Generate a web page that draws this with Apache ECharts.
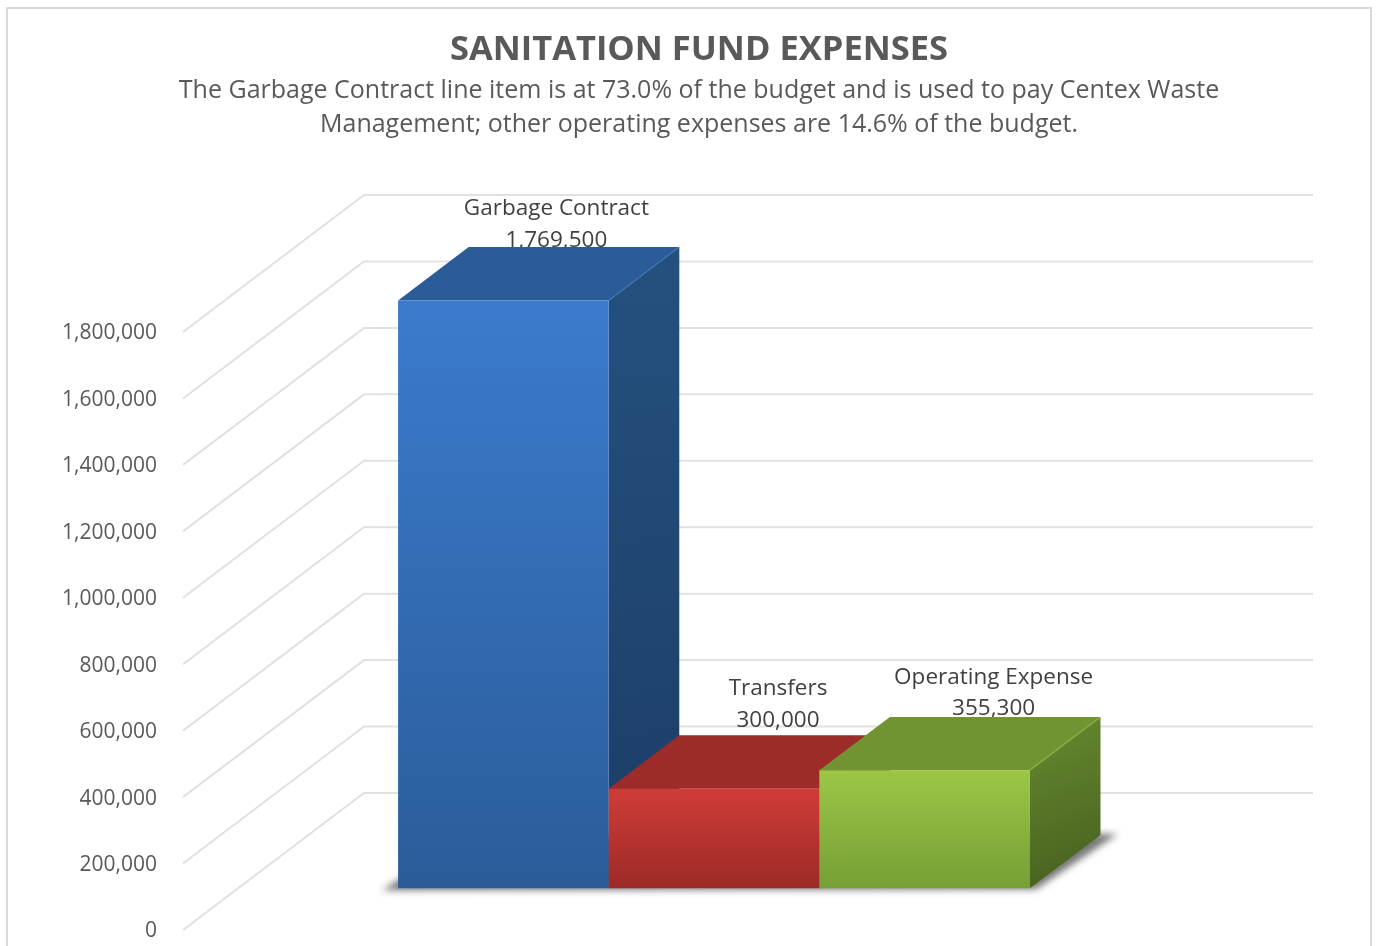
<!DOCTYPE html>
<html>
<head>
<meta charset="utf-8">
<title>Sanitation Fund Expenses</title>
<script src="https://cdn.jsdelivr.net/npm/echarts@6/dist/echarts.min.js"></script>
<style>
html, body { margin: 0; padding: 0; background: #fff; }
#chart { width: 1377px; height: 946px; }
</style>
</head>
<body>
<div id="chart"></div>
<script>
var categories = ['Garbage Contract', 'Transfers', 'Operating Expense'];
var expenses = [1769500, 300000, 355300];
var tickValues = [0, 200000, 400000, 600000, 800000, 1000000, 1200000, 1400000, 1600000, 1800000];

var titleText = 'SANITATION FUND EXPENSES';
var subtitleText = 'The Garbage Contract line item is at 73.0% of the budget and is used to pay Centex Waste\nManagement; other operating expenses are 14.6% of the budget.';

var fontName = '"Open Sans", "Noto Sans", sans-serif';
var textColor = '#595959';

// oblique projection: how far one full step of depth moves a point on screen
var depthX = 181;
var depthY = -137;
var barDepthFront = 0.304;
var barDepthBack = 0.694;

var faces = [
    { front: ['#3b7bcd', '#2b5c99'], top: '#2b5c98', side: ['#25517f', '#1c3d66'] },
    { front: ['#d03c38', '#9c2a27'], top: '#9c2b29', side: ['#7a2220', '#6a1d1b'] },
    { front: ['#9cc646', '#769f36'], top: '#719331', side: ['#678a30', '#465e1e'] }
];

// small hand nudges so the labels sit where the picture has them
var labelNudgeX = [53, 64, 69];
var labelNudgeY = [-76, -84, -77];

function project(api, x, value, depth) {
    var p = api.coord([x, value]);
    return [p[0] + depthX * depth, p[1] + depthY * depth];
}

function vGradient(colors) {
    return new echarts.graphic.LinearGradient(0, 0, 0, 1, [
        { offset: 0, color: colors[0] },
        { offset: 1, color: colors[1] }
    ]);
}

function sideGradient(colors) {
    return new echarts.graphic.LinearGradient(0, 0, 1, 1, [
        { offset: 0, color: colors[0] },
        { offset: 1, color: colors[1] }
    ]);
}

function renderGrid(params, api) {
    var value = api.value(0);
    var xMin = -0.76;
    var xMax = 3.746;
    var a = project(api, xMin, value, 0);
    var b = project(api, xMin, value, 1);
    var c = project(api, xMax, value, 1);
    return {
        type: 'polyline',
        shape: { points: [a, b, c] },
        style: { fill: 'none', stroke: '#e1e1e1', lineWidth: 2 }
    };
}

function renderLabel(params, api) {
    var i = api.value(0);
    var pBase = api.coord([i + 0.5, api.value(1)]);
    return {
        type: 'text',
        style: {
            x: pBase[0] + depthX * barDepthFront + labelNudgeX[i],
            y: pBase[1] + depthY * barDepthFront + labelNudgeY[i],
            text: categories[i] + '\n' + api.value(1).toLocaleString('en-US'),
            textAlign: 'center',
            textVerticalAlign: 'middle',
            font: '22.5px ' + fontName,
            lineHeight: 31.5,
            fill: '#404040'
        }
    };
}

// only the blurred shadow of this shape is meant to show, the shape sits off screen
function renderShadow(params, api) {
    var n = categories.length;
    var d0 = barDepthFront;
    var d1 = barDepthBack;
    var off = 3000;
    var fl = project(api, 0, 0, d0);
    var fr = project(api, n, 0, d0);
    var br = project(api, n, 0, d1);
    var bl = project(api, 0, 0, d1);
    var pts = [[fl[0] - 16, fl[1] + 2], [fr[0] + 6, fr[1] + 1], [br[0] + 17, br[1] - 1], [bl[0], bl[1]]];
    return {
        type: 'polygon',
        shape: { points: pts.map(function(p) { return [p[0] - off, p[1]]; }) },
        style: {
            fill: '#000',
            shadowBlur: 7,
            shadowOffsetX: off,
            shadowColor: 'rgba(60,60,60,0.7)'
        }
    };
}

function renderBar(params, api) {
    var i = api.value(0);
    var v = api.value(1);
    var f = faces[i];
    var d0 = barDepthFront;
    var d1 = barDepthBack;
    var ftl = project(api, i, v, d0);
    var ftr = project(api, i + 1, v, d0);
    var fbl = project(api, i, 0, d0);
    var fbr = project(api, i + 1, 0, d0);
    var btl = project(api, i, v, d1);
    var btr = project(api, i + 1, v, d1);
    var bbr = project(api, i + 1, 0, d1);
    return {
        type: 'group',
        children: [
            { type: 'polygon', shape: { points: [ftr, btr, bbr, fbr] }, style: { fill: sideGradient(f.side) } },
            { type: 'polygon', shape: { points: [ftl, btl, btr, ftr] }, style: { fill: f.top } },
            { type: 'polygon', shape: { points: [ftl, ftr, fbr, fbl] }, style: { fill: vGradient(f.front) } },
            { type: 'polyline', shape: { points: [ftr, btr] }, style: { fill: 'none', stroke: f.front[0], opacity: 0.3, lineWidth: 2 } }
        ]
    };
}

var myChart = echarts.init(document.getElementById('chart'), null, { renderer: 'canvas' });

var barData = expenses.map(function(v, i) { return [i, v]; });

var option = {
    animation: false,
    backgroundColor: '#ffffff',
    textStyle: { fontFamily: fontName },
    title: {
        text: titleText,
        subtext: subtitleText,
        left: 694,
        top: 22,
        textAlign: 'center',
        itemGap: 1,
        textStyle: { fontFamily: fontName, fontSize: 34.5, fontWeight: 'bold', color: textColor, lineHeight: 46 },
        subtextStyle: { fontFamily: fontName, fontSize: 25, color: textColor, lineHeight: 34, align: 'center' }
    },
    graphic: [{
        type: 'rect',
        silent: true,
        z: 0,
        shape: { x: 7, y: 8, width: 1364, height: 1000 },
        style: { fill: 'none', stroke: '#d9d9d9', lineWidth: 2 }
    }],
    grid: { left: 183, top: 332, width: 949, height: 598, containLabel: false },
    xAxis: { type: 'value', min: -0.76, max: 3.746, show: false },
    yAxis: {
        type: 'value',
        min: 0,
        max: 1800000,
        interval: 200000,
        axisLine: { show: false },
        axisTick: { show: false },
        splitLine: { show: false },
        axisLabel: {
            margin: 26,
            fontFamily: fontName,
            fontSize: 21,
            color: textColor,
            verticalAlign: 'top',
            lineHeight: 3,
            formatter: function(v) { return v.toLocaleString('en-US'); }
        }
    },
    series: [
        { type: 'custom', name: 'grid', z: 1, silent: true, renderItem: renderGrid, data: tickValues.map(function(v) { return [v]; }), encode: { y: 0 } },
        { type: 'custom', name: 'labels', z: 2, silent: true, renderItem: renderLabel, data: barData },
        { type: 'custom', name: 'shadow', z: 3, silent: true, renderItem: renderShadow, data: [[0, 0]] },
        { type: 'custom', name: 'expenses', z: 4, renderItem: renderBar, data: barData }
    ]
};

myChart.setOption(option);
</script>
</body>
</html>
